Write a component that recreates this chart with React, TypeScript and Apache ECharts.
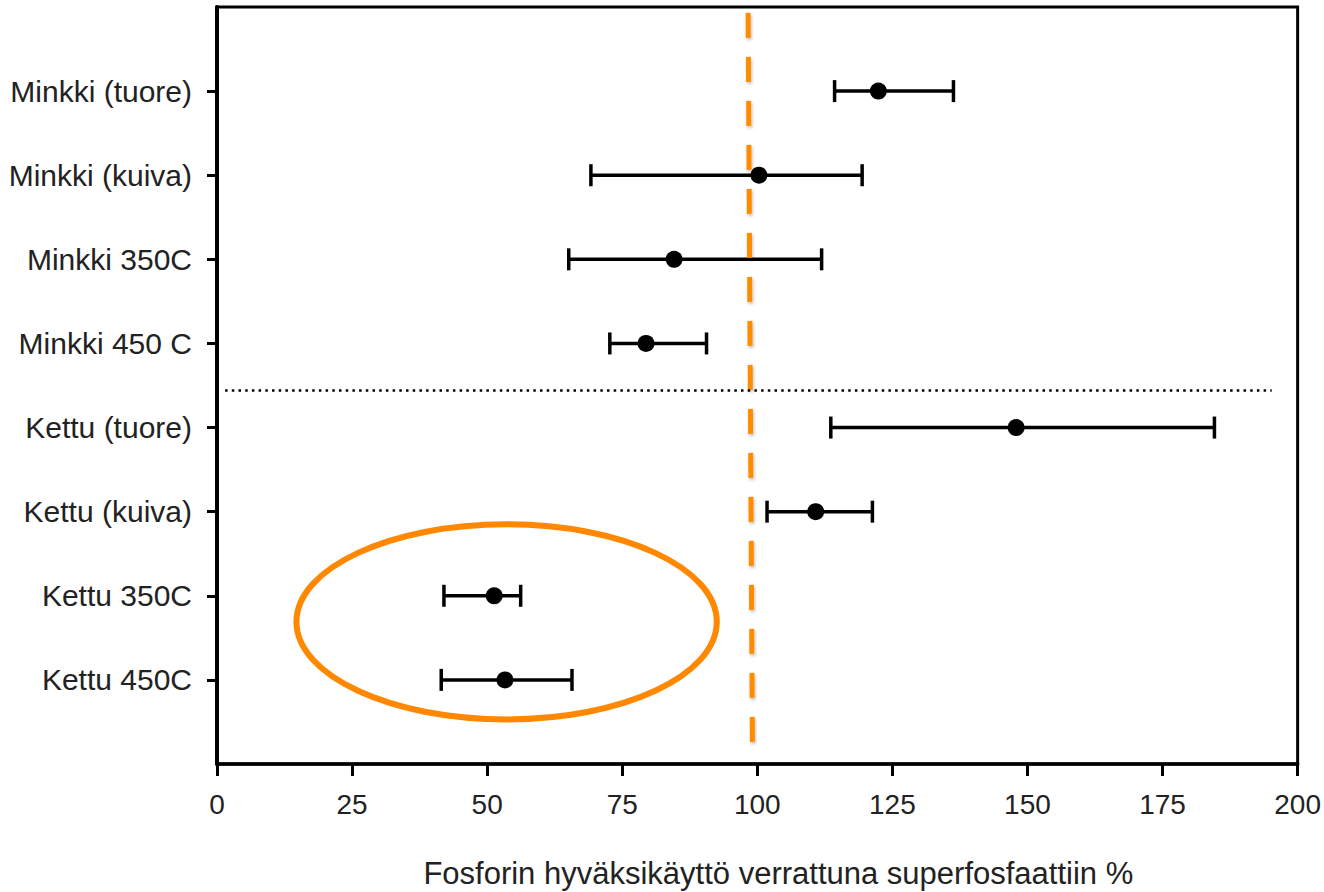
import React, { useEffect, useRef } from "react";
import * as echarts from "echarts";

const categories = [
  "Minkki (tuore)",
  "Minkki (kuiva)",
  "Minkki 350C",
  "Minkki 450 C",
  "Kettu (tuore)",
  "Kettu (kuiva)",
  "Kettu 350C",
  "Kettu 450C",
];
const means = [122.4, 100.3, 84.6, 79.4, 147.9, 110.8, 51.3, 53.3];
const lows = [114.3, 69.2, 65.1, 72.7, 113.6, 101.8, 42.0, 41.5];
const highs = [136.3, 119.4, 111.9, 90.6, 184.6, 121.3, 56.2, 65.7];
const xTicks = [0, 25, 50, 75, 100, 125, 150, 175, 200];
const positions = [1, 2, 3, 4, 5, 6, 7, 8];
// reference (dashed orange) line: [x at top, y top], [x at bottom, y bottom]
const refLine = [
  [98.3, 0.07],
  [99.1, 8.88],
];
// separator between Minkki and Kettu groups
const separator = [
  [1.5, 4.56],
  [195.2, 4.56],
];
// highlight ellipse: center (x, y) and radii in data units
const ellipseCenter = [53.6, 7.31];
const ellipseRadii = [38.9, 1.16];
const xTitle = "Fosforin hyväksikäyttö verrattuna superfosfaattiin %";

const FONT = "Liberation Sans, Arial, sans-serif";

export default function App() {
  const ref = useRef<HTMLDivElement>(null);
  useEffect(() => {
    document.body.style.margin = "0";
    if (!ref.current) return;
    const chart = echarts.init(ref.current, null, { renderer: "svg" });
    const errData = positions.map((p, i) => [lows[i], highs[i], p]);
    const ptData = positions.map((p, i) => [means[i], p]);
    chart.setOption({
      animation: false,
      backgroundColor: "#fff",
      grid: {
        left: 217,
        right: 22,
        top: 7,
        bottom: 128,
        show: true,
        borderColor: "#000",
        borderWidth: 3,
        backgroundColor: "transparent",
      },
      xAxis: {
        type: "value",
        min: 0,
        max: 200,
        interval: 25,
        axisLine: { show: true, onZero: false, lineStyle: { color: "#000", width: 3.5 } },
        axisTick: { show: true, length: 12, lineStyle: { color: "#000", width: 3 } },
        axisLabel: {
          color: "#222",
          fontSize: 28,
          fontFamily: FONT,
          margin: 26,
          customValues: xTicks,
        },
        splitLine: { show: false },
      },
      yAxis: {
        type: "value",
        inverse: true,
        min: 0,
        max: 9,
        interval: 1,
        axisLine: { show: true, onZero: false, lineStyle: { color: "#000", width: 4 } },
        axisTick: {
          show: true,
          length: 10,
          lineStyle: { color: "#000", width: 3 },
          customValues: positions,
        },
        axisLabel: {
          color: "#222",
          fontSize: 30,
          fontFamily: FONT,
          margin: 25,
          customValues: positions,
          formatter: (v: number) => categories[Math.round(v) - 1] ?? "",
        },
        splitLine: { show: false },
      },
      series: [
        {
          type: "custom",
          data: errData,
          encode: { x: [0, 1], y: 2 },
          renderItem: (params: any, api: any) => {
            const lo = api.coord([api.value(0), api.value(2)]);
            const hi = api.coord([api.value(1), api.value(2)]);
            const cap = 11;
            const style = { stroke: "#000", lineWidth: 3.5 };
            return {
              type: "group",
              children: [
                { type: "line", shape: { x1: lo[0], y1: lo[1], x2: hi[0], y2: hi[1] }, style },
                { type: "line", shape: { x1: lo[0], y1: lo[1] - cap, x2: lo[0], y2: lo[1] + cap }, style },
                { type: "line", shape: { x1: hi[0], y1: hi[1] - cap, x2: hi[0], y2: hi[1] + cap }, style },
              ],
            };
          },
          z: 3,
        },
        {
          type: "scatter",
          data: ptData,
          symbol: "circle",
          symbolSize: 17,
          itemStyle: { color: "#000", opacity: 1 },
          z: 4,
        },
        {
          type: "line",
          data: [],
          markLine: {
            silent: true,
            symbol: "none",
            label: { show: false },
            data: [
              [
                {
                  coord: refLine[0],
                  lineStyle: {
                    color: "#FF8C00",
                    width: 5,
                    type: [25, 19],
                    shadowColor: "rgba(0,0,0,0.25)",
                    shadowBlur: 3,
                    shadowOffsetX: 1,
                    shadowOffsetY: 2,
                  },
                },
                { coord: refLine[1] },
              ],
              [
                {
                  coord: separator[0],
                  lineStyle: { color: "#000", width: 2.5, type: [2.5, 4.2] },
                },
                { coord: separator[1] },
              ],
            ],
          },
          z: 2,
        },
      ],
    });
    const c = chart.convertToPixel({ gridIndex: 0 }, ellipseCenter) as number[];
    const e = chart.convertToPixel({ gridIndex: 0 }, [
      ellipseCenter[0] + ellipseRadii[0],
      ellipseCenter[1] + ellipseRadii[1],
    ]) as number[];
    const tl = chart.convertToPixel({ gridIndex: 0 }, [0, 0]) as number[];
    const br = chart.convertToPixel({ gridIndex: 0 }, [200, 9]) as number[];
    chart.setOption({
      graphic: [
        {
          type: "ellipse",
          shape: { cx: c[0], cy: c[1], rx: Math.abs(e[0] - c[0]), ry: Math.abs(e[1] - c[1]) },
          style: { fill: "none", stroke: "#FF8800", lineWidth: 6 },
          z: 10,
        },
        {
          type: "text",
          x: (tl[0] + br[0]) / 2 + 21,
          y: 873,
          style: {
            text: xTitle,
            fill: "#222",
            fontSize: 31,
            fontFamily: FONT,
            align: "center",
            verticalAlign: "middle",
          },
        },
      ],
    });
    return () => chart.dispose();
  }, []);
  return <div ref={ref} style={{ width: 1324, height: 892 }} />;
}
